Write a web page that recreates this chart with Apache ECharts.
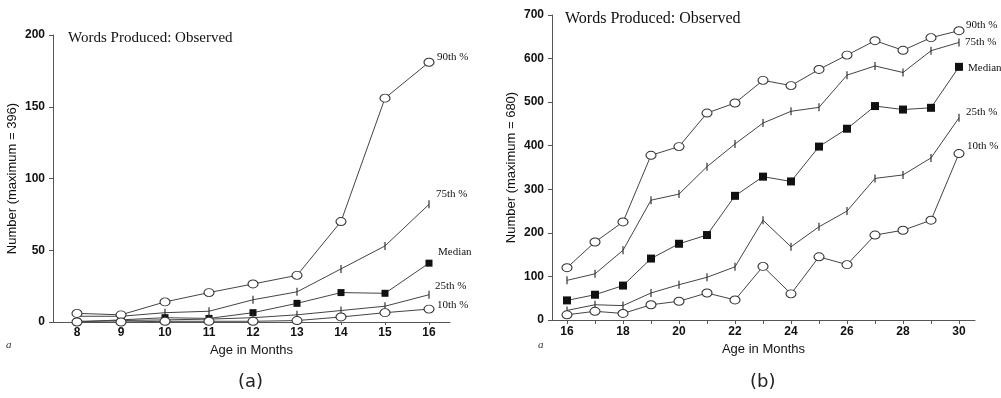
<!DOCTYPE html>
<html>
<head>
<meta charset="utf-8">
<script src="https://cdn.jsdelivr.net/npm/echarts@6/dist/echarts.min.js"></script>
<style>
  html, body { margin: 0; padding: 0; background: #fff; }
  #chart { width: 1001px; height: 398px; }
</style>
</head>
<body>
<div id="chart"></div>
<script>
// panel (a): 8-16 months
const agesA = [8, 9, 10, 11, 12, 13, 14, 15, 16];
const p90A = [6, 5, 14, 20.5, 26.5, 32.5, 70, 156, 181];
const p75A = [4, 4, 6.5, 7.5, 15.5, 21, 37, 53, 82];
const medA = [0, 1.5, 3, 2.5, 6.5, 13, 20.5, 20, 41];
const p25A = [0.5, 1, 1.5, 2, 3, 5, 8, 11, 19];
const p10A = [0, 0, 0.5, 0.5, 0.5, 1, 3.5, 6.5, 9];

// panel (b): 16-30 months
const agesB = [16, 17, 18, 19, 20, 21, 22, 23, 24, 25, 26, 27, 28, 29, 30];
const p90B = [120, 179, 225, 378, 398, 475, 498, 550, 538, 575, 608, 641, 619, 648, 664];
const p75B = [91, 106, 160, 275, 289, 352, 404, 452, 479, 488, 562, 583, 568, 618, 637];
const medB = [45, 58, 79, 141, 175, 195, 285, 329, 318, 398, 439, 491, 483, 487, 581];
const p25B = [22, 35, 33, 62, 81, 98, 122, 229, 168, 214, 250, 325, 333, 372, 464];
const p10B = [12, 20, 15, 35, 43, 62, 46, 123, 60, 145, 127, 195, 206, 229, 382];

const ticksA = [8, 9, 10, 11, 12, 13, 14, 15, 16];
const labelsB = [16, 18, 20, 22, 24, 26, 28, 30];

const names = ['90th %', '75th %', 'Median', '25th %', '10th %'];
const kinds = ['circle', 'tick', 'square', 'tick', 'circle'];

const offsetsA = [[8, -5], [7, -10], [9, -11], [6, -9], [8, -4]];
const offsetsB = [[7, -6], [6, 0], [9, 1], [7, -6], [8, -7]];

const chart = echarts.init(document.getElementById('chart'));

function markerStyle(kind, sq) {
  if (kind === 'circle') {
    return { symbol: 'circle', symbolSize: [10, 8],
      itemStyle: { color: '#fff', borderColor: '#333', borderWidth: 1 } };
  }
  if (kind === 'square') {
    return { symbol: 'rect', symbolSize: sq,
      itemStyle: { color: '#111', borderColor: '#111', borderWidth: 0 } };
  }
  return { symbol: 'rect', symbolSize: [1.2, 8],
    itemStyle: { color: '#333', borderWidth: 0 } };
}

function makeSeries(idx, ages, vals, name, kind, off, sq) {
  return Object.assign({
    type: 'line',
    name: name,
    xAxisIndex: idx,
    yAxisIndex: idx,
    data: ages.map((a, i) => [a, vals[i]]),
    showAllSymbol: true,
    lineStyle: { color: '#444', width: 1 },
    z: kind === 'circle' ? 3 : 2,
    endLabel: {
      show: true,
      formatter: name,
      distance: 0,
      offset: off,
      fontFamily: 'Liberation Serif',
      fontSize: 11,
      color: '#111'
    }
  }, markerStyle(kind, sq));
}

const axisLine = { show: true, lineStyle: { color: '#555', width: 1 } };
const tickLabel = { color: '#111', fontFamily: 'Liberation Sans', fontSize: 12, fontWeight: 'bold' };
const nameStyle = { color: '#111', fontFamily: 'Liberation Sans', fontSize: 13 };

const seriesA = [p90A, p75A, medA, p25A, p10A].map((v, i) =>
  makeSeries(0, agesA, v, names[i], kinds[i], offsetsA[i], 7));
const seriesB = [p90B, p75B, medB, p25B, p10B].map((v, i) =>
  makeSeries(1, agesB, v, names[i], kinds[i], offsetsB[i], 8));

const option = {
  animation: false,
  backgroundColor: '#fff',
  grid: [
    { left: 53, right: 551, top: 35, bottom: 76 },
    { left: 552, right: 26, top: 15, bottom: 78 }
  ],
  xAxis: [
    {
      type: 'value', gridIndex: 0,
      min: 8 - 24 / 44, max: 16 + 21 / 44,
      name: 'Age in Months', nameLocation: 'middle', nameGap: 20,
      nameTextStyle: nameStyle,
      axisLine: axisLine,
      axisTick: { show: true, length: 3, customValues: ticksA, lineStyle: { color: '#555' } },
      axisLabel: Object.assign({ customValues: ticksA, margin: 5 }, tickLabel),
      splitLine: { show: false }
    },
    {
      type: 'value', gridIndex: 1,
      min: 16 - 15 / 28, max: 30 + 16 / 28,
      name: 'Age in Months', nameLocation: 'middle', nameGap: 20,
      nameTextStyle: nameStyle,
      axisLine: axisLine,
      axisTick: { show: true, length: 4, customValues: agesB, lineStyle: { color: '#555' } },
      axisLabel: Object.assign({ customValues: labelsB, margin: 6 }, tickLabel),
      splitLine: { show: false }
    }
  ],
  yAxis: [
    {
      type: 'value', gridIndex: 0,
      min: 0, max: 200, interval: 50,
      name: 'Number (maximum = 396)', nameLocation: 'middle', nameGap: 34,
      nameTextStyle: nameStyle,
      axisLine: axisLine,
      axisTick: { show: true, length: 4, lineStyle: { color: '#555' } },
      axisLabel: Object.assign({ margin: 8 }, tickLabel),
      splitLine: { show: false }
    },
    {
      type: 'value', gridIndex: 1,
      min: 0, max: 700, interval: 100,
      name: 'Number (maximum = 680)', nameLocation: 'middle', nameGap: 34,
      nameTextStyle: nameStyle,
      axisLine: axisLine,
      axisTick: { show: true, length: 4, lineStyle: { color: '#555' } },
      axisLabel: Object.assign({ margin: 8 }, tickLabel),
      splitLine: { show: false }
    }
  ],
  graphic: [
    { type: 'text', left: 68, top: 31, style: { text: 'Words Produced: Observed', font: '15px "Liberation Serif"', fill: '#111' } },
    { type: 'text', left: 565, top: 11, style: { text: 'Words Produced: Observed', font: '16px "Liberation Serif"', fill: '#111' } },
    { type: 'text', left: 6, top: 340, style: { text: 'a', font: 'italic 11px "Liberation Serif"', fill: '#333' } },
    { type: 'text', left: 538, top: 340, style: { text: 'a', font: 'italic 11px "Liberation Serif"', fill: '#333' } },
    { type: 'text', left: 238, top: 373, style: { text: '(a)', font: '18px "DejaVu Sans"', fill: '#222' } },
    { type: 'text', left: 750, top: 373, style: { text: '(b)', font: '18px "DejaVu Sans"', fill: '#222' } }
  ],
  series: seriesA.concat(seriesB)
};

chart.setOption(option);
</script>
</body>
</html>
